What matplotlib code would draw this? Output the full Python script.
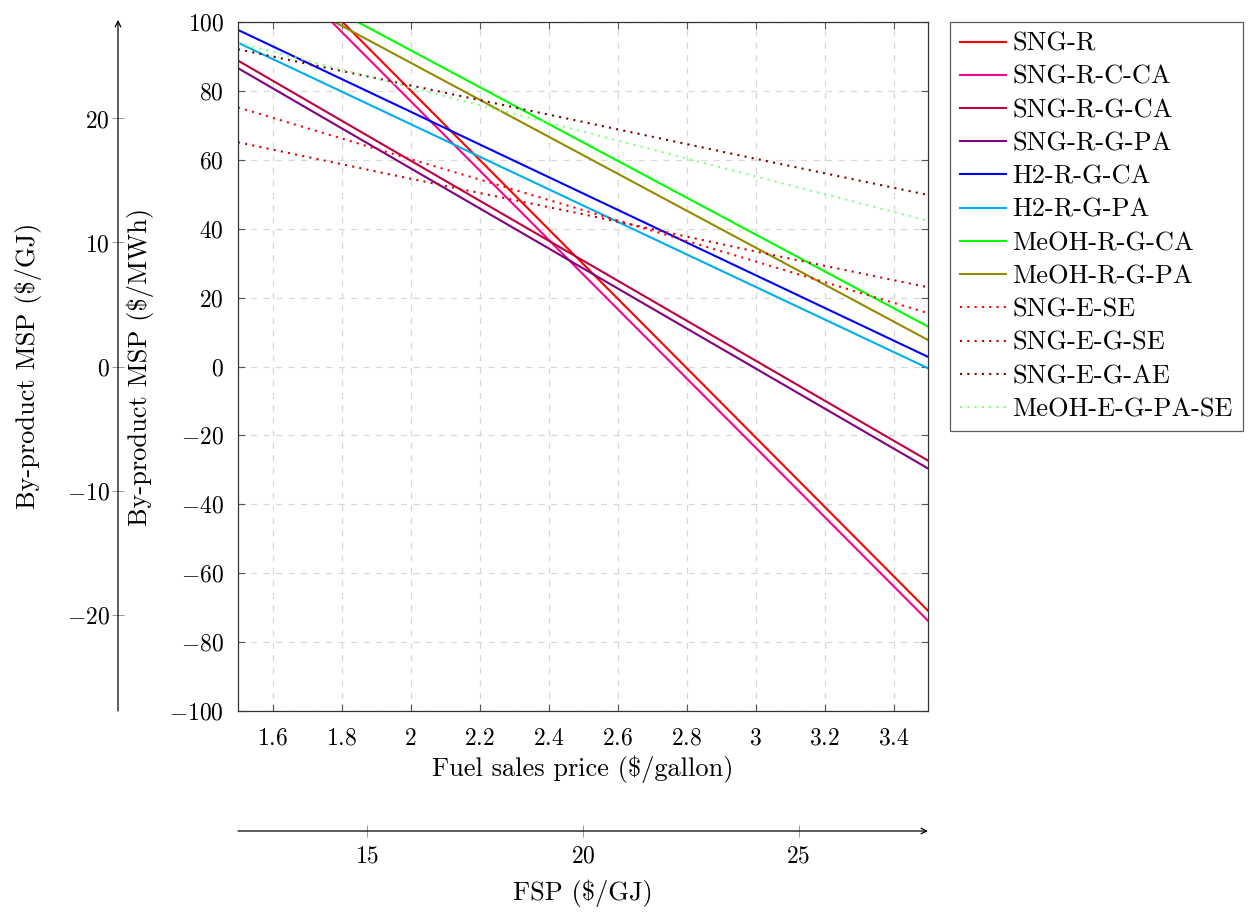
import matplotlib
matplotlib.use("Agg")
import matplotlib.pyplot as plt

plt.rcParams['font.family'] = 'serif'
plt.rcParams['font.serif'] = ['cmr10']
plt.rcParams['mathtext.fontset'] = 'cm'
plt.rcParams['axes.formatter.use_mathtext'] = True

FS = 17      # tick labels (mathtext)
LFS = 19     # text labels / legend

# ---------------- data ----------------
# solid (linear) series: points read at the visible ends of each line
sng_r_x = [1.803, 3.5]
sng_r_y = [100.0, -70.9]
sng_r_c_ca_x = [1.772, 3.5]
sng_r_c_ca_y = [100.0, -73.8]
sng_r_g_ca_x = [1.5, 3.5]
sng_r_g_ca_y = [88.8, -27.3]
sng_r_g_pa_x = [1.5, 3.5]
sng_r_g_pa_y = [86.6, -29.6]
h2_r_g_ca_x = [1.5, 3.5]
h2_r_g_ca_y = [97.7, 2.8]
h2_r_g_pa_x = [1.5, 3.5]
h2_r_g_pa_y = [94.0, -0.5]
meoh_r_g_ca_x = [1.847, 3.5]
meoh_r_g_ca_y = [100.0, 11.6]
meoh_r_g_pa_x = [1.780, 3.5]
meoh_r_g_pa_y = [100.0, 7.7]
# dotted series
e_x = [1.5, 2.0, 2.5, 3.0, 3.5]
sng_e_se_y = [75.2, 60.2, 45.4, 30.5, 15.5]
sng_e_g_se_y = [65.1, 54.5, 44.2, 33.4, 23.0]
sng_e_g_ae_y = [92.1, 81.6, 71.0, 60.3, 49.8]
meoh_e_g_pa_se_y = [94.0, 81.0, 68.2, 55.2, 42.3]

xticks = [1.6, 1.8, 2.0, 2.2, 2.4, 2.6, 2.8, 3.0, 3.2, 3.4]
xticklabels = ['1.6', '1.8', '2', '2.2', '2.4', '2.6', '2.8', '3', '3.2', '3.4']
yticks = [-100, -80, -60, -40, -20, 0, 20, 40, 60, 80, 100]
gj_ticks = [-20, -10, 0, 10, 20]
fsp_ticks = [15, 20, 25]
GAL_TO_GJ = 8.0      # $/gallon -> $/GJ
MWH_TO_GJ = 3.6      # $/MWh -> $/GJ

# ---------------- figure ----------------
fig = plt.figure(figsize=(12.5, 9.16), dpi=100)
W, H = 1250, 916
ax = fig.add_axes([238 / W, (H - 711) / H, 690 / W, 689 / H])

lw = 1.5
dot = (0, (1, 2.5))
ax.plot(sng_r_x, sng_r_y, color='#ff0000', lw=lw, label='SNG-R')
ax.plot(sng_r_c_ca_x, sng_r_c_ca_y, color='#f0068f', lw=lw, label='SNG-R-C-CA')
ax.plot(sng_r_g_ca_x, sng_r_g_ca_y, color='#bf0040', lw=lw, label='SNG-R-G-CA')
ax.plot(sng_r_g_pa_x, sng_r_g_pa_y, color='#800080', lw=lw, label='SNG-R-G-PA')
ax.plot(h2_r_g_ca_x, h2_r_g_ca_y, color='#0000ff', lw=lw, label='H2-R-G-CA')
ax.plot(h2_r_g_pa_x, h2_r_g_pa_y, color='#00aeef', lw=lw, label='H2-R-G-PA')
ax.plot(meoh_r_g_ca_x, meoh_r_g_ca_y, color='#00ff00', lw=lw, label='MeOH-R-G-CA')
ax.plot(meoh_r_g_pa_x, meoh_r_g_pa_y, color='#948a00', lw=lw, label='MeOH-R-G-PA')
ax.plot(e_x, sng_e_se_y, color='#ff0000', lw=lw, ls=dot, label='SNG-E-SE')
ax.plot(e_x, sng_e_g_se_y, color='#d00000', lw=lw, ls=dot, label='SNG-E-G-SE')
ax.plot(e_x, sng_e_g_ae_y, color='#800000', lw=lw, ls=dot, label='SNG-E-G-AE')
ax.plot(e_x, meoh_e_g_pa_se_y, color='#80ff80', lw=lw, ls=dot, label='MeOH-E-G-PA-SE')

ax.set_xlim(1.5, 3.5)
ax.set_ylim(-100, 100)
ax.set_xticks(xticks)
ax.set_xticklabels(['$%s$' % t for t in xticklabels], fontsize=FS)
ax.set_yticks(yticks)
ax.set_yticklabels(['$%d$' % t for t in yticks], fontsize=FS)
ax.tick_params(direction='in', length=5, width=0.8, color='#555555',
               top=True, right=True, pad=10)
ax.tick_params(axis='x', pad=12)
ax.grid(True, color='#d8d8d8', ls=(0, (5, 5)), lw=0.9)
ax.set_axisbelow(True)
for s in ax.spines.values():
    s.set_color('#333333')
    s.set_linewidth(0.9)

# secondary y axis ($/GJ)
secy = ax.secondary_yaxis((118 - 238) / 690,
                          functions=(lambda v: v / MWH_TO_GJ, lambda v: v * MWH_TO_GJ))
secy.set_yticks(gj_ticks)
secy.set_yticklabels(['$%d$' % t for t in gj_ticks], fontsize=FS)
secy.tick_params(direction='inout', length=8, width=0.6, color='#888888', pad=2)
secy.spines['left'].set_visible(False)
ax.annotate('', xy=((118 - 238) / 690, 1.003), xytext=((118 - 238) / 690, 0.0),
            xycoords='axes fraction',
            arrowprops=dict(arrowstyle='->', color='black', lw=0.9,
                            shrinkA=0, shrinkB=0), annotation_clip=False)

# secondary x axis ($/GJ)
secx = ax.secondary_xaxis((711 - 831) / 689,
                          functions=(lambda v: v * GAL_TO_GJ, lambda v: v / GAL_TO_GJ))
secx.set_xticks(fsp_ticks)
secx.set_xticklabels(['$%d$' % t for t in fsp_ticks], fontsize=FS)
secx.tick_params(direction='inout', length=8, width=0.6, color='#888888', pad=6)
secx.spines['bottom'].set_visible(False)
ax.annotate('', xy=(1.0, (711 - 831) / 689), xytext=(0.0, (711 - 831) / 689),
            xycoords='axes fraction',
            arrowprops=dict(arrowstyle='->', color='black', lw=0.9,
                            shrinkA=0, shrinkB=0), annotation_clip=False)

# axis labels
fig.text(583 / W, 1 - 769 / H, r'Fuel sales price (\$/gallon)', ha='center', va='center', fontsize=LFS)
fig.text(583 / W, 1 - 893 / H, r'FSP (\$/GJ)', ha='center', va='center', fontsize=LFS)
fig.text(140 / W, 1 - 367 / H, r'By-product MSP (\$/MWh)', ha='center', va='center',
         rotation=90, fontsize=LFS)
fig.text(28 / W, 1 - 366 / H, r'By-product MSP (\$/GJ)', ha='center', va='center',
         rotation=90, fontsize=LFS)

leg = ax.legend(loc='upper left', bbox_to_anchor=(950 / W, 1 - 22 / H),
                bbox_transform=fig.transFigure, fontsize=LFS, frameon=True,
                fancybox=False, edgecolor='#333333', handlelength=1.75,
                handletextpad=0.22, labelspacing=0.36, borderpad=0.38,
                borderaxespad=0)
leg.get_frame().set_linewidth(0.9)

fig.savefig('out.png', dpi=100)
